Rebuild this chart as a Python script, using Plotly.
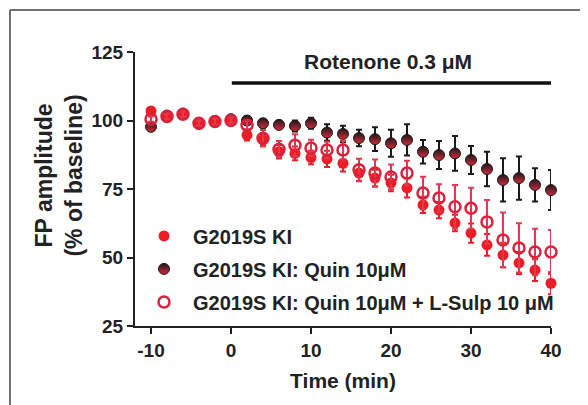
import plotly.graph_objects as go

# time points (min), one every 2 min
time_min = [-10, -8, -6, -4, -2, 0, 2, 4, 6, 8, 10, 12, 14, 16, 18, 20,
            22, 24, 26, 28, 30, 32, 34, 36, 38, 40]

# G2019S KI
ki_mean = [103.5, 101.5, 102.5, 99.0, 99.8, 100.2, 94.7, 92.9, 88.6, 88.0,
           86.5, 86.0, 84.4, 80.8, 79.0, 77.2, 75.4, 69.2, 67.3, 62.6,
           58.9, 54.6, 50.9, 48.0, 45.4, 40.6]
ki_sem = [1, 1, 1, 1, 1, 1, 2, 2, 2.5, 2.5, 2.5, 3, 3, 3, 3, 3, 3.5, 3, 3,
          3, 3.5, 4, 4.5, 4, 4, 4]

# G2019S KI: Quin 10uM
quin_mean = [97.7, 101.8, 102.5, 98.8, 99.8, 100.5, 100.0, 99.0, 98.4, 98.0,
             99.0, 95.6, 95.1, 93.6, 93.2, 91.7, 92.9, 88.6, 87.4, 88.0,
             85.6, 82.3, 78.3, 79.0, 76.5, 74.6]
quin_sem = [1, 1, 1, 1, 1, 1, 1.5, 1.5, 1.5, 2, 2, 3, 3, 3, 4.3, 4.9, 5.7,
            4.3, 5.1, 6.3, 5.1, 6.3, 7.9, 7.9, 6.1, 7.3]

# G2019S KI: Quin 10uM + L-Sulp 10uM
sulp_mean = [100.5, 101.5, 102.3, 99.0, 99.6, 100.0, 98.3, 93.5, 89.5, 91.0,
             90.0, 89.2, 89.2, 82.0, 80.8, 79.4, 80.8, 73.5, 71.7, 68.5,
             68.0, 63.0, 56.4, 53.5, 52.0, 52.0]
sulp_sem = [1, 1, 1, 1, 1, 1, 1.5, 3, 3, 4, 3, 3, 3.5, 4, 5, 4.5, 4.5, 6,
            5, 8, 7.5, 8, 10, 9, 8.5, 8]

x_ticks = [-10, 0, 10, 20, 30, 40]
x_ticklabels = ["-10", "0", "10", "20", "30", "40"]
y_ticks = [25, 50, 75, 100, 125]

RED = "#ee1d25"
DARK = "#1a1a1a"
OPEN_RED = "#d8233b"
FONT = "Liberation Sans, Arial, sans-serif"

fig = go.Figure()

fig.add_trace(go.Scatter(
    x=time_min, y=quin_mean, mode="markers", name="G2019S KI: Quin 10\u03bcM",
    error_y=dict(type="data", array=quin_sem, color=DARK, thickness=2, width=3),
    marker=dict(size=11, color=DARK, line=dict(color=DARK, width=1),
                gradient=dict(type="vertical", color="#d8283c")),
    cliponaxis=False, legendrank=2, legendgroup="b",
))
fig.add_trace(go.Scatter(
    x=time_min, y=ki_mean, mode="markers", name="G2019S KI",
    error_y=dict(type="data", array=ki_sem, color=RED, thickness=2, width=3),
    marker=dict(size=11, color=RED),
    cliponaxis=False, legendrank=1, legendgroup="a",
))
fig.add_trace(go.Scatter(
    x=time_min, y=sulp_mean, mode="markers",
    name="G2019S KI: Quin 10\u03bcM + L-Sulp 10 \u03bcM",
    error_y=dict(type="data", array=sulp_sem, color="#e03a50", thickness=2, width=3),
    marker=dict(size=11, symbol="circle-open", color=OPEN_RED, line=dict(width=2.5)),
    cliponaxis=False, legendrank=3, legendgroup="c",
))

# rotenone application bar
fig.add_shape(type="line", x0=0.1, x1=40.8, y0=113.7, y1=113.7,
              line=dict(color="#111", width=3.5))
fig.add_annotation(x=19.6, y=121.4, text="Rotenone 0.3 \u03bcM", showarrow=False,
                   font=dict(size=21, family=FONT, color="#222", weight="bold"))

# y axis title, two lines
fig.add_annotation(xref="paper", yref="paper", x=-0.182, y=0.55,
                   xanchor="center", yanchor="middle",
                   text="FP amplitude<br>(% of baseline)", textangle=-90,
                   showarrow=False,
                   font=dict(size=23, family=FONT, color="#222", weight="bold"))

# frame around figure (left and top only)
fig.add_shape(type="line", xref="paper", yref="paper", x0=-0.3005, x1=-0.3005,
              y0=-0.4, y1=1.153, line=dict(color="#444", width=1.5))
fig.add_shape(type="line", xref="paper", yref="paper", x0=-0.3005, x1=1.2,
              y0=1.153, y1=1.153, line=dict(color="#444", width=1.5))

fig.update_layout(
    width=580, height=397,
    margin=dict(l=127, r=37, t=44, b=79),
    paper_bgcolor="white", plot_bgcolor="white",
    font=dict(family=FONT, size=19, color="#222", weight="bold"),
    showlegend=True,
    legend=dict(x=0.0, y=0.40, xanchor="left", yanchor="top",
                bgcolor="rgba(0,0,0,0)", tracegroupgap=4, itemwidth=48,
                font=dict(size=20, family=FONT, color="#222", weight="bold")),
    xaxis=dict(range=[-12, 40], tickvals=x_ticks, ticktext=x_ticklabels,
               showgrid=False, zeroline=False, showline=True, linecolor="#222",
               linewidth=2, ticks="outside", ticklen=6, tickwidth=2,
               tickcolor="#222", automargin=False,
               title=dict(text="Time (min)", standoff=14,
                          font=dict(size=21, weight="bold"))),
    yaxis=dict(range=[25, 125], tickvals=y_ticks,
               showgrid=False, zeroline=False, showline=True, linecolor="#222",
               linewidth=2, ticks="outside", ticklen=6, tickwidth=2,
               tickcolor="#222", automargin=False),
)

fig.write_html("out.html")
